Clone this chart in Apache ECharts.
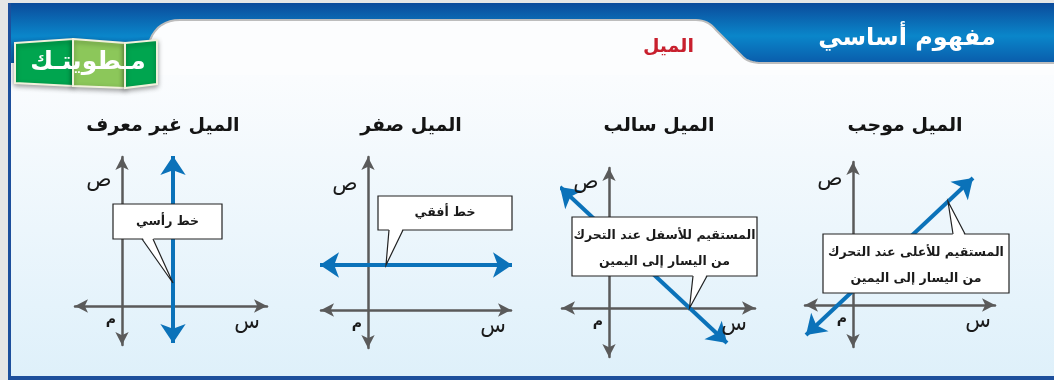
<!DOCTYPE html>
<html>
<head>
<meta charset="utf-8">
<script src="https://cdn.jsdelivr.net/npm/echarts@6/dist/echarts.min.js"></script>
<style>
  html, body { margin: 0; padding: 0; background: #e6e6e6; }
  #main { width: 1054px; height: 380px; }
</style>
</head>
<body>
<div id="main"></div>
<script>
// data: four panels, right to left as in the book
var panelTitles = ['الميل موجب', 'الميل سالب', 'الميل صفر', 'الميل غير معرف'];
// axis extents per panel: [xMin, xMax, yMin, yMax]
var axisRanges = [
  [-4.8, 14.2, -4.2, 14.3],
  [-4.7, 14.6, -4.9, 14.0],
  [-4.7, 14.3, -3.8, 15.3],
  [-4.7, 14.5, -3.9, 14.9]
];
// blue line end points per panel
var slopeLines = [
  [[-4.7, -3.0], [12.0, 12.7]],
  [[-4.9, 12.1], [11.8, -3.5]],
  [[-4.8, 4.5], [14.4, 4.5]],
  [[5.1, -3.7], [5.1, 15.0]]
];
// point on the line that each callout points at
var calloutTips = [[9.5, 10.35], [8.05, 0], [1.8, 4.5], [5.1, 2.3]];
var calloutTexts = [
  ['المستقيم للأعلى عند التحرك', 'من اليسار إلى اليمين'],
  ['المستقيم للأسفل عند التحرك', 'من اليسار إلى اليمين'],
  ['خط أفقي'],
  ['خط رأسي']
];
var axisNames = ['س', 'ص', 'م'];

// layout (pixels)
var panelOrigins = [[853, 305], [609, 308], [368, 310], [122, 306]];
var unitPx = 10;
var titleX = [905, 659, 411, 163];
var calloutBoxes = [[823, 234, 186, 59], [572, 217, 185, 59], [378, 196, 134, 34], [113, 204, 109, 35]];
var pointerBases = [[953, 965, 'top'], [693, 707, 'bottom'], [389, 403, 'bottom'], [142, 153, 'bottom']];

var FONT = "'DejaVu Sans', sans-serif";
var AXIS_GRAY = '#5a5a5a';
var LINE_BLUE = '#0b72b9';

var chart = echarts.init(document.getElementById('main'));

var grids = [], xAxes = [], yAxes = [], series = [];
axisRanges.forEach(function (r, i) {
  var o = panelOrigins[i];
  grids.push({
    left: o[0] + r[0] * unitPx,
    top: o[1] - r[3] * unitPx,
    width: (r[1] - r[0]) * unitPx,
    height: (r[3] - r[2]) * unitPx
  });
  var axisCommon = {
    type: 'value', gridIndex: i,
    axisLine: {
      show: true, onZero: true,
      symbol: ['arrow', 'arrow'], symbolSize: [10, 13],
      lineStyle: { color: AXIS_GRAY, width: 2.5 }
    },
    axisTick: { show: false },
    axisLabel: { show: false },
    splitLine: { show: false }
  };
  xAxes.push(Object.assign({ min: r[0], max: r[1] }, axisCommon));
  yAxes.push(Object.assign({ min: r[2], max: r[3] }, axisCommon));
  series.push({
    type: 'lines',
    coordinateSystem: 'cartesian2d',
    xAxisIndex: i, yAxisIndex: i,
    silent: true,
    z: 3,
    symbol: ['arrow', 'arrow'],
    symbolSize: [19, 19],
    lineStyle: { color: LINE_BLUE, width: 4, opacity: 1 },
    data: [{ coords: slopeLines[i] }]
  });
});

chart.setOption({
  animation: false,
  grid: grids,
  xAxis: xAxes,
  yAxis: yAxes,
  series: series
});

// quadratic curve points for the header tab corners
function quad(p0, p1, p2) {
  var pts = [];
  for (var k = 0; k <= 8; k++) {
    var t = k / 8, u = 1 - t;
    pts.push([u * u * p0[0] + 2 * u * t * p1[0] + t * t * p2[0], u * u * p0[1] + 2 * u * t * p1[1] + t * t * p2[1]]);
  }
  return pts;
}
var tabEdge = [].concat(
  quad([150, 40], [158, 20], [180, 20]),
  quad([696, 20], [708, 20], [716, 30]),
  quad([742, 56], [748, 63], [762, 63]),
  [[1054, 63]]
);
var tabFill = [[140, 75]].concat(tabEdge, [[1054, 75]]);

// decorations: page frame, header band, badge
var graphics = [
  { type: 'rect', z: -10, shape: { x: 0, y: 0, width: 1054, height: 380 }, style: { fill: '#e6e6e6' } },
  { type: 'rect', z: -9, shape: { x: 8, y: 3, width: 1046, height: 377 },
    style: { fill: new echarts.graphic.LinearGradient(0, 0, 0, 1, [
      { offset: 0, color: '#ffffff' }, { offset: 0.2, color: '#fafcfe' }, { offset: 1, color: '#def0fa' }]) } },
  { type: 'rect', z: -8, shape: { x: 11, y: 3, width: 1043, height: 60 },
    style: { fill: new echarts.graphic.LinearGradient(0, 0, 0, 1, [
      { offset: 0, color: '#0b4b9b' }, { offset: 0.55, color: '#0a86ca' }, { offset: 1, color: '#0a5cab' }]) } },
  { type: 'polygon', z: -7, shape: { points: tabFill }, style: { fill: '#fcfdfe' } },
  { type: 'polyline', z: -6, shape: { points: tabEdge }, style: { fill: null, stroke: '#bdbdbd', lineWidth: 2 } },
  { type: 'rect', z: -5, shape: { x: 8, y: 3, width: 3, height: 377 }, style: { fill: '#1d4f9c' } },
  { type: 'rect', z: -5, shape: { x: 8, y: 376, width: 1046, height: 4 }, style: { fill: '#1d4f9c' } },
  { type: 'text', z: 5, style: { x: 907, y: 39, text: 'مفهوم أساسي', fill: '#ffffff',
      font: 'bold 24px ' + FONT, textAlign: 'center', textVerticalAlign: 'middle',
      shadowBlur: 2, shadowColor: 'rgba(0,0,0,0.4)' } },
  { type: 'text', z: 5, style: { x: 694, y: 47, text: 'الميل', fill: '#c8202e',
      font: 'bold 19px ' + FONT, textAlign: 'right', textVerticalAlign: 'middle' } },
  // badge
  { type: 'polygon', z: 5, shape: { points: [[15, 43], [73, 39], [73, 86], [15, 83]] },
    style: { fill: '#00a54f', stroke: '#f1f1dc', lineWidth: 2, shadowBlur: 5, shadowOffsetY: 2, shadowColor: 'rgba(0,0,0,0.35)' } },
  { type: 'polygon', z: 5, shape: { points: [[73, 39], [125, 43], [125, 88], [73, 86]] },
    style: { fill: '#8cc75a', stroke: '#f1f1dc', lineWidth: 2, shadowBlur: 5, shadowOffsetY: 2, shadowColor: 'rgba(0,0,0,0.35)' } },
  { type: 'polygon', z: 5, shape: { points: [[125, 43], [157, 40], [157, 84], [125, 88]] },
    style: { fill: '#00a54f', stroke: '#f1f1dc', lineWidth: 2, shadowBlur: 5, shadowOffsetY: 2, shadowColor: 'rgba(0,0,0,0.35)' } },
  { type: 'text', z: 6, style: { x: 88, y: 62, text: 'مـطويتـك', fill: '#ffffff',
      font: 'bold 25px ' + FONT, textAlign: 'center', textVerticalAlign: 'middle' } }
];

panelTitles.forEach(function (t, i) {
  graphics.push({ type: 'text', z: 5, style: { x: titleX[i], y: 126, text: t, fill: '#141414',
    font: 'bold 19px ' + FONT, textAlign: 'center', textVerticalAlign: 'middle' } });
});

// axis names and callouts, placed from the data coordinates
panelOrigins.forEach(function (o, i) {
  var org = chart.convertToPixel({ gridIndex: i }, [0, 0]);
  graphics.push(
    { type: 'text', z: 10, style: { x: org[0] + 125, y: org[1] + 17, text: axisNames[0], fill: '#1a1a1a',
      font: '21px ' + FONT, textAlign: 'center', textVerticalAlign: 'middle' } },
    { type: 'text', z: 10, style: { x: org[0] - 23, y: org[1] - 125, text: axisNames[1], fill: '#1a1a1a',
      font: '21px ' + FONT, textAlign: 'center', textVerticalAlign: 'middle' } },
    { type: 'text', z: 10, style: { x: org[0] - 11, y: org[1] + 14, text: axisNames[2], fill: '#1a1a1a',
      font: 'bold 14px ' + FONT, textAlign: 'center', textVerticalAlign: 'middle' } }
  );

  var b = calloutBoxes[i];
  var pb = pointerBases[i];
  var tip = chart.convertToPixel({ gridIndex: i }, calloutTips[i]);
  var baseY = pb[2] === 'top' ? b[1] : b[1] + b[3];
  var inner = pb[2] === 'top' ? baseY + 2 : baseY - 2;
  graphics.push(
    { type: 'rect', z: 10, shape: { x: b[0], y: b[1], width: b[2], height: b[3] },
      style: { fill: '#ffffff', stroke: '#222222', lineWidth: 1.2 } },
    { type: 'polygon', z: 11, shape: { points: [[pb[0], inner], tip, [pb[1], inner]] },
      style: { fill: '#ffffff' } },
    { type: 'polyline', z: 12, shape: { points: [[pb[0], baseY], tip, [pb[1], baseY]] },
      style: { stroke: '#222222', lineWidth: 1.2, fill: null } }
  );
  var lines = calloutTexts[i];
  var cx = b[0] + b[2] / 2;
  lines.forEach(function (t, k) {
    var y = lines.length === 1 ? b[1] + b[3] / 2 : b[1] + b[3] * (k === 0 ? 0.31 : 0.75);
    graphics.push({ type: 'text', z: 13, style: { x: cx, y: y, text: t, fill: '#1a1a1a',
      font: 'bold 12.5px ' + FONT, textAlign: 'center', textVerticalAlign: 'middle' } });
  });
});

chart.setOption({ graphic: graphics });
</script>
</body>
</html>
